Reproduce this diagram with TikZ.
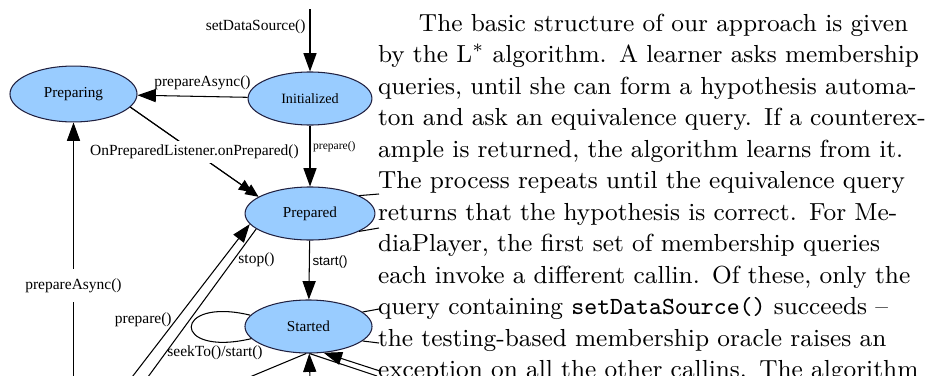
\documentclass[tikz,border=0pt]{standalone}
\usepackage{fontspec}
\usetikzlibrary{arrows.meta,positioning,shapes.geometric}
\newfontfamily\statefont{Liberation Serif}
\newfontfamily\smallsans{Liberation Sans}
\definecolor{stateblue}{HTML}{99CCFF}
\definecolor{stateedge}{HTML}{202040}
\newcommand{\jline}[1]{\makebox[210.5pt][s]{#1}}
\tikzset{
  statebox/.style={ellipse, draw=stateedge, fill=stateblue, line width=0.4pt,
    inner sep=0pt, font=\statefont\fontsize{5.8}{7}\selectfont},
  arr/.style={-{Triangle[length=7pt,width=5pt]}, line width=0.4pt},
  smallarr/.style={-{Triangle[length=5pt,width=4.4pt]}, line width=0.4pt},
  wire/.style={line width=0.4pt},
  lbl/.style={font=\statefont\fontsize{5.9}{7}\selectfont, inner sep=1.5pt},
  tinylbl/.style={font=\statefont\fontsize{4.4}{5}\selectfont, inner sep=1pt},
  sanslbl/.style={font=\smallsans\fontsize{5.1}{6}\selectfont, inner sep=1pt}
}

\begin{document}
\begin{tikzpicture}[x=0.381pt, y=-0.381pt]
  \useasboundingbox (0,0) rectangle (935,375);
  \node[statebox, minimum width=48.4pt, minimum height=21.3pt] (preparing) at (73.5,94) {Preparing};
  \node[statebox, minimum width=47.2pt, minimum height=20.2pt,
    font=\statefont\fontsize{5.4}{7}\selectfont] (init) at (310,98.5) {Initialized};
  \node[statebox, minimum width=49.5pt, minimum height=20.2pt] (prepared) at (310,213.5) {Prepared};
  \node[statebox, minimum width=48.4pt, minimum height=20.2pt] (started) at (308.5,326.5) {Started};

  \coordinate (src) at (310,9);
  \coordinate (fromstop) at (129,381);
  \coordinate (tostop) at (145,381);
  \coordinate (fromidle) at (73.5,381);
  \coordinate (frombelow) at (310,381);
  \coordinate (outsw) at (245,379);
  \coordinate (outse) at (377,376);
  \coordinate (inse) at (380,371);
  \coordinate (prne) at (379,194);
  \coordinate (prse) at (379,228);
  \coordinate (stne) at (379,309);
  \coordinate (stse) at (379,343);

  \draw[arr] (src) -- (init) node[lbl, left, pos=0.29] {setDataSource()};
  \draw[arr] (init) -- (preparing) node[lbl, above=1pt, pos=0.41] {prepareAsync()};
  \draw[smallarr, shorten >=3pt] (preparing.-13) -- (prepared.162);
  \draw[smallarr] (preparing.-13) -- (prepared.162)
    node[lbl, fill=white, pos=0.5] {OnPreparedListener.onPrepared()};
  \draw[arr] (init) -- (prepared) node[tinylbl, right, pos=0.35] {prepare()};
  \draw[arr] (prepared) -- (started) node[sanslbl, right, pos=0.37] {start()};
  \draw[arr] (fromstop) -- (prepared.190) node[lbl, left, pos=0.39] {prepare()};
  \draw[wire] (prepared.196) -- (tostop) node[lbl, right, pos=0.2] {stop()};
  \draw[arr] (fromidle) -- (preparing)
    node[lbl, fill=white, inner sep=3.5pt, pos=0.37] {prepareAsync()};
  \draw[wire] (started.169) .. controls +(-78,-19) and +(-81,19) .. (started.192);
  \node[lbl] (seeklbl) at (215,353) {seekTo()/start()};
  \draw[arr] (frombelow) -- (started);
  \draw[wire] (started.-95) -- (outsw);
  \draw[wire] (started.-88) -- (outse);
  \draw[arr] (inse) -- (started.-60);
  \draw[wire] (prepared.20) -- (prne);
  \draw[wire] (prepared.-20) -- (prse);
  \draw[wire] (started.15) -- (stne);
  \draw[wire] (started.-15) -- (stse);

  \node[anchor=base west, text width=210.5pt, inner sep=0pt,
    font=\fontsize{9.4pt}{12pt}\selectfont] (para) at (377.5,31.5) {%
    \jline{\hspace*{15.6pt}The basic structure of our approach is given}\\
    \jline{by the L$^*$ algorithm. A learner asks membership}\\
    \jline{queries, until she can form a hypothesis automa-}\\
    \jline{ton and ask an equivalence query. If a counterex-}\\
    \jline{ample is returned, the algorithm learns from it.}\\
    \jline{The process repeats until the equivalence query}\\
    \jline{returns that the hypothesis is correct. For Me-}\\
    \jline{diaPlayer, the first set of membership queries}\\
    \jline{each invoke a different callin. Of these, only the}\\
    \jline{query containing \texttt{setDataSource()} succeeds --}\\
    \jline{the testing-based membership oracle raises an}\\
    \jline{exception on all the other callins. The algorithm}};
\end{tikzpicture}
\end{document}
